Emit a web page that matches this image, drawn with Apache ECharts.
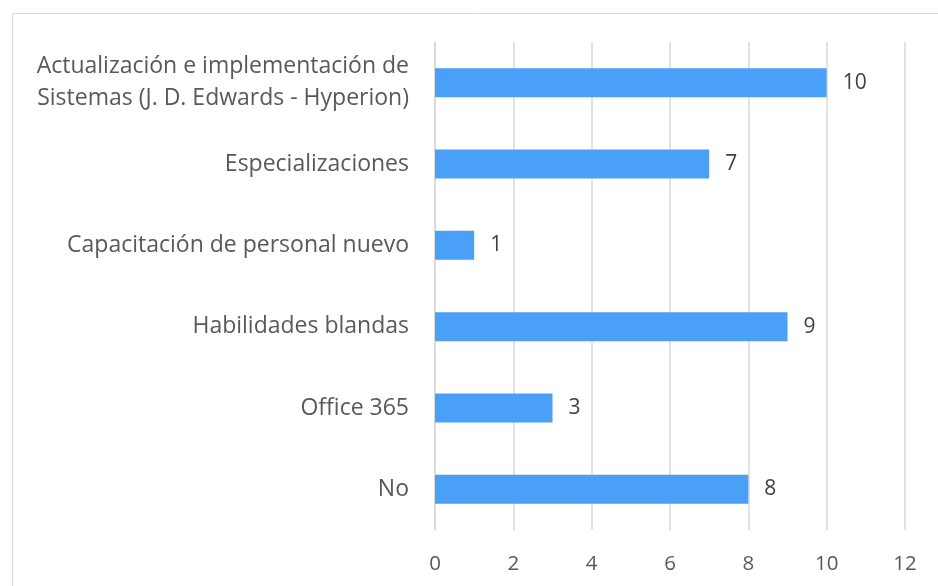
<!DOCTYPE html>
<html>
<head>
<meta charset="utf-8">
<script src="https://cdn.jsdelivr.net/npm/echarts@6/dist/echarts.min.js"></script>
<style>
  html, body { margin: 0; padding: 0; background: #fff; }
  #chart { width: 938px; height: 586px; }
</style>
</head>
<body>
<div id="chart"></div>
<script>
// categories listed bottom to top (category axis on y starts at the bottom)
const categories = [
  'No',
  'Office 365',
  'Habilidades blandas',
  'Capacitación de personal nuevo',
  'Especializaciones',
  'Actualización e implementación de\nSistemas (J. D. Edwards - Hyperion)'
]
const values = [8, 3, 9, 1, 7, 10]
const xTicks = [0, 2, 4, 6, 8, 10, 12]

const chart = echarts.init(document.getElementById('chart'))
const textFont = '"Open Sans", sans-serif'

chart.setOption({
  animation: false,
  graphic: [{
    type: 'rect',
    shape: { x: 12.5, y: 13.5, width: 940, height: 600 },
    style: { fill: 'none', stroke: '#d9d9d9', lineWidth: 1 },
    silent: true
  }],
  grid: { left: 435, right: 33, top: 42, bottom: 56, containLabel: false },
  xAxis: {
    type: 'value',
    min: xTicks[0],
    max: xTicks[xTicks.length - 1],
    interval: 2,
    axisLine: { show: false },
    axisTick: { show: false },
    splitLine: { lineStyle: { color: '#d9d9d9', width: 1.5 } },
    axisLabel: {
      color: '#595959',
      fontSize: 20.5,
      fontFamily: textFont,
      margin: 24
    }
  },
  yAxis: {
    type: 'category',
    data: categories,
    axisLine: { show: true, lineStyle: { color: '#d9d9d9', width: 1.5 } },
    axisTick: { show: false },
    axisLabel: {
      color: '#595959',
      fontSize: 23,
      fontFamily: textFont,
      margin: 26,
      lineHeight: 32,
      align: 'right'
    }
  },
  series: [{
    type: 'bar',
    data: values,
    barWidth: 29,
    itemStyle: { color: '#4aa0f7' },
    label: {
      show: true,
      position: 'right',
      distance: 16,
      color: '#404040',
      fontSize: 21,
      fontFamily: textFont
    }
  }]
})
</script>
</body>
</html>
